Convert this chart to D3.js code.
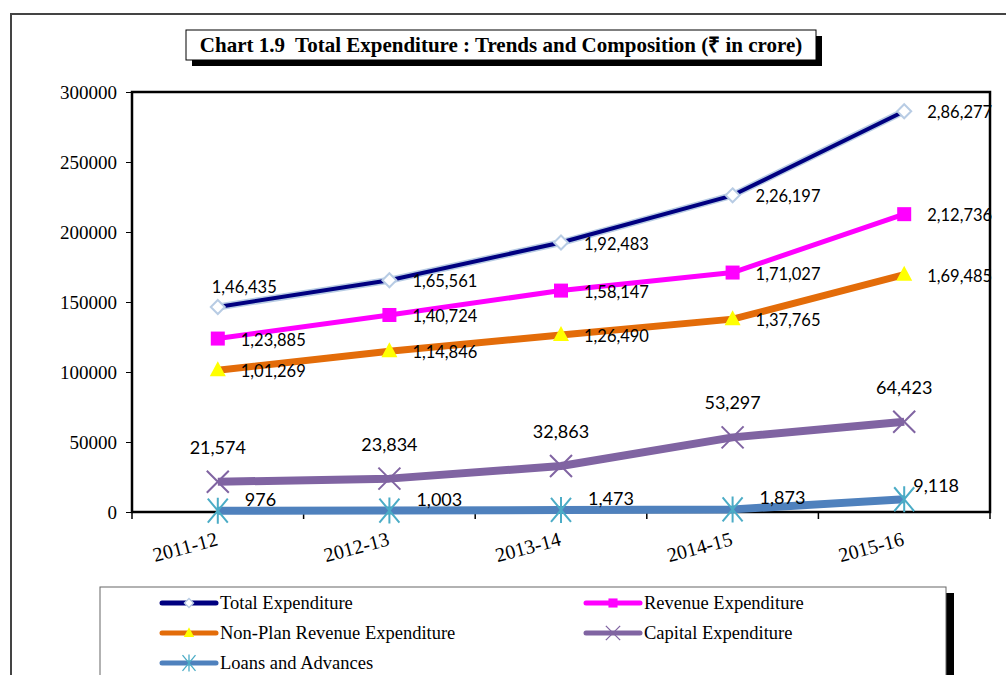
<!DOCTYPE html>
<html>
<head>
<meta charset="utf-8">
<script src="https://cdn.jsdelivr.net/npm/d3@7"></script>
<style>
  html, body { margin: 0; padding: 0; background: #fff; }
  svg { display: block; }
</style>
</head>
<body>
<svg id="chart" width="1006" height="675"></svg>
<script>
const years = ["2011-12", "2012-13", "2013-14", "2014-15", "2015-16"];
const totalExp = [146435, 165561, 192483, 226197, 286277];
const revenueExp = [123885, 140724, 158147, 171027, 212736];
const nonPlanExp = [101269, 114846, 126490, 137765, 169485];
const capitalExp = [21574, 23834, 32863, 53297, 64423];
const loansAdv = [976, 1003, 1473, 1873, 9118];
const yTicks = [0, 50000, 100000, 150000, 200000, 250000, 300000];

// Indian digit grouping, as printed on the chart
function inr(v) {
  const s = String(v);
  if (s.length <= 3) return s;
  const last = s.slice(-3);
  let rest = s.slice(0, -3);
  const parts = [];
  while (rest.length > 2) { parts.unshift(rest.slice(-2)); rest = rest.slice(0, -2); }
  if (rest) parts.unshift(rest);
  return parts.join(",") + "," + last;
}

const series = [
  { name: "Total Expenditure", values: totalExp, color: "#000080", width: 4, glow: "#b8cce4", marker: "diamond", label: "right", firstLabel: "aboveRight", font: 16.5 },
  { name: "Revenue Expenditure", values: revenueExp, color: "#ff00ff", width: 5, marker: "square", label: "right", font: 16.5 },
  { name: "Non-Plan Revenue Expenditure", values: nonPlanExp, color: "#e36c09", width: 7, marker: "triangle", label: "right", font: 16.5 },
  { name: "Capital Expenditure", values: capitalExp, color: "#8064a2", width: 8, marker: "cross", label: "above", font: 18 },
  { name: "Loans and Advances", values: loansAdv, color: "#4f81bd", width: 8, marker: "star", label: "upright", font: 18 }
];

const svg = d3.select("#chart");
const plot = { left: 132, right: 990, top: 92, bottom: 512 };
const labelFont = "Lato, 'Open Sans', sans-serif";
const serif = "'Liberation Serif', 'Times New Roman', serif";

// outer page frame
svg.append("path")
  .attr("d", "M11,675 V14 H1006")
  .attr("fill", "none").attr("stroke", "#444").attr("stroke-width", 2);

// title box with shadow
svg.append("rect").attr("x", 192).attr("y", 36).attr("width", 630).attr("height", 30).attr("fill", "#000");
svg.append("rect").attr("x", 186).attr("y", 30).attr("width", 630).attr("height", 30)
  .attr("fill", "#fff").attr("stroke", "#000").attr("stroke-width", 1);
svg.append("text").attr("x", 501).attr("y", 52).attr("text-anchor", "middle")
  .style("font-family", serif).style("font-weight", "bold").style("font-size", "21px")
  .style("white-space", "pre")
  .text("Chart 1.9  Total Expenditure : Trends and Composition (\u20B9 in crore)");

const x = d3.scaleBand().domain(years).range([plot.left, plot.right]);
const y = d3.scaleLinear().domain([0, 300000]).range([plot.bottom, plot.top]);
const cx = (i) => x(years[i]) + x.bandwidth() / 2;

// plot border
svg.append("rect")
  .attr("x", plot.left).attr("y", plot.top)
  .attr("width", plot.right - plot.left).attr("height", plot.bottom - plot.top)
  .attr("fill", "none").attr("stroke", "#000").attr("stroke-width", 2.5);

// y axis
const yAxis = svg.append("g").attr("transform", `translate(${plot.left},0)`)
  .call(d3.axisLeft(y).tickValues(yTicks).tickFormat(d3.format("d")).tickSize(6).tickPadding(9));
yAxis.select(".domain").remove();
yAxis.selectAll("line").attr("stroke", "#000");
yAxis.selectAll("text").style("font-family", serif).style("font-size", "19px").attr("fill", "#000");

// x axis ticks at category boundaries
const xBounds = years.map((d) => x(d)).concat([plot.right]);
svg.append("g").selectAll("line").data(xBounds).join("line")
  .attr("x1", (d) => d).attr("x2", (d) => d)
  .attr("y1", plot.bottom).attr("y2", plot.bottom + 7)
  .attr("stroke", "#000").attr("stroke-width", 1.5);

svg.append("g").selectAll("text").data(years).join("text")
  .attr("transform", (d, i) => `translate(${cx(i) + 1},${plot.bottom + 33}) rotate(-15)`)
  .attr("text-anchor", "end")
  .style("font-family", serif).style("font-size", "20px")
  .text((d) => d);

function drawMarker(g, type, s, px, py) {
  if (type === "diamond") {
    g.append("path").attr("d", `M${px},${py - 7}L${px + 7},${py}L${px},${py + 7}L${px - 7},${py}Z`)
      .attr("fill", "#fff").attr("stroke", s.glow).attr("stroke-width", 2);
  } else if (type === "square") {
    g.append("rect").attr("x", px - 7).attr("y", py - 7).attr("width", 14).attr("height", 14)
      .attr("fill", s.color);
  } else if (type === "triangle") {
    g.append("path").attr("d", `M${px},${py - 9}L${px + 8},${py + 6}L${px - 8},${py + 6}Z`)
      .attr("fill", "#ffff00");
  } else if (type === "cross") {
    g.append("path").attr("d", `M${px - 11},${py - 11}L${px + 11},${py + 11}M${px - 11},${py + 11}L${px + 11},${py - 11}`)
      .attr("stroke", s.color).attr("stroke-width", 2);
  } else if (type === "star") {
    g.append("path").attr("d", `M${px - 10},${py - 12}L${px + 10},${py + 12}M${px - 10},${py + 12}L${px + 10},${py - 12}M${px},${py - 13}V${py + 13}`)
      .attr("stroke", "#4bacc6").attr("stroke-width", 2);
  }
}

const line = d3.line().x((d, i) => cx(i)).y((d) => y(d));

// draw bottom series first so Total Expenditure sits on top
series.slice().reverse().forEach((s) => {
  const g = svg.append("g");
  if (s.glow) {
    g.append("path").datum(s.values).attr("d", line)
      .attr("fill", "none").attr("stroke", s.glow).attr("stroke-width", s.width + 3);
  }
  g.append("path").datum(s.values).attr("d", line)
    .attr("fill", "none").attr("stroke", s.color).attr("stroke-width", s.width)
    .attr("stroke-linejoin", "round");
  s.values.forEach((v, i) => drawMarker(g, s.marker, s, cx(i), y(v)));

  s.values.forEach((v, i) => {
    const px = cx(i), py = y(v);
    const pos = i === 0 && s.firstLabel ? s.firstLabel : s.label;
    const t = g.append("text").style("font-family", labelFont).style("font-size", s.font + "px").attr("fill", "#000")
      .text(inr(v));
    if (pos === "right") {
      t.attr("x", px + 23).attr("y", py + 7);
    } else if (pos === "aboveRight") {
      t.attr("x", px - 6).attr("y", py - 14);
    } else if (pos === "above") {
      t.attr("x", px).attr("y", py - 28).attr("text-anchor", "middle");
    } else if (pos === "upright") {
      t.attr("x", px + (i === 4 ? 9 : 27)).attr("y", py - (i === 4 ? 7 : 5));
    }
  });
});

// legend
const legend = { x: 100, y: 587, w: 846, h: 100 };
svg.append("rect").attr("x", legend.x + legend.w).attr("y", legend.y + 6).attr("width", 8).attr("height", legend.h)
  .attr("fill", "#000");
svg.append("rect").attr("x", legend.x).attr("y", legend.y).attr("width", legend.w).attr("height", legend.h)
  .attr("fill", "#fff").attr("stroke", "#666").attr("stroke-width", 1);

const legendPos = [[162, 603], [586, 603], [162, 633], [586, 633], [162, 663]];
series.forEach((s, i) => {
  const [lx, ly] = legendPos[i];
  const g = svg.append("g");
  g.append("line").attr("x1", lx).attr("x2", lx + 54).attr("y1", ly).attr("y2", ly)
    .attr("stroke", s.color).attr("stroke-width", 5).attr("stroke-linecap", "round");
  g.append("g").attr("transform", `translate(${lx + 27},${ly}) scale(0.65) translate(${-(lx + 27)},${-ly})`)
    .call((gg) => drawMarker(gg, s.marker, s, lx + 27, ly));
  g.append("text").attr("x", lx + 58).attr("y", ly + 6)
    .style("font-family", serif).style("font-size", "18.5px").text(s.name);
});
</script>
</body>
</html>
